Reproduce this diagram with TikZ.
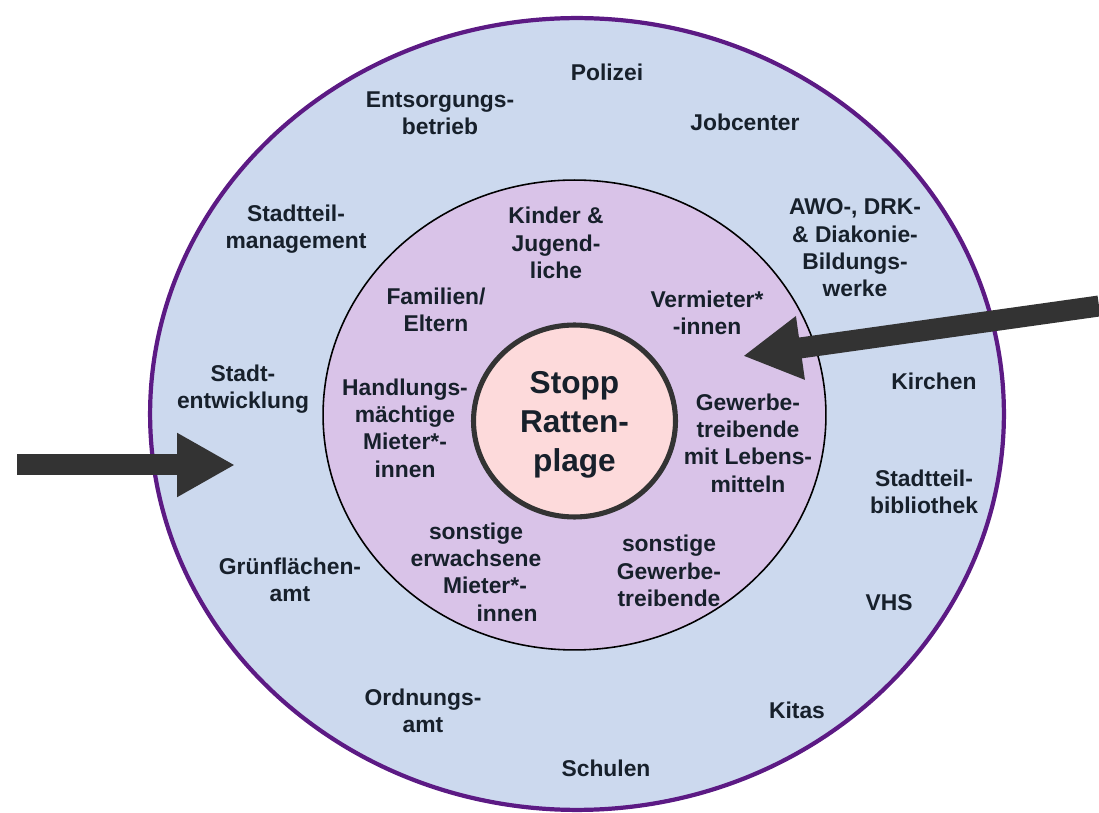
\documentclass[tikz,border=0pt]{standalone}
\usepackage{fontspec}
\setmainfont{Liberation Sans}
\usetikzlibrary{shapes.geometric,arrows.meta}
\definecolor{outerblue}{HTML}{CCD9EE}
\definecolor{ringpurple}{HTML}{5C1A84}
\definecolor{innerlila}{HTML}{D9C3E8}
\definecolor{corepink}{HTML}{FDDADB}
\definecolor{darkgrey}{HTML}{333333}
\definecolor{labeltext}{HTML}{17202B}

\begin{document}
\begin{tikzpicture}[x=0.02cm, y=-0.02cm,
  lbl/.style={font=\fontsize{13}{15.6}\selectfont\bfseries, text=labeltext, align=center, inner sep=0pt},
  ring/.style={ellipse, inner sep=0pt},
  bigarrow/.style={draw=darkgrey, line width=0.42cm, -{Triangle[length=1.16cm,width=1.2cm]}}]
\useasboundingbox (0,0) rectangle (1099,813);
% rings
\node (outer) [ring, draw=ringpurple, line width=2.4pt, fill=outerblue, minimum width=17.08cm, minimum height=15.84cm] at (577,414) {};
\node (inner) [ring, draw=black, line width=0.9pt, fill=innerlila, minimum width=10.06cm, minimum height=9.4cm] at (574.5,415) {};
\node (core) [ring, draw=darkgrey, line width=2.9pt, fill=corepink, minimum width=4.04cm, minimum height=3.84cm] at (574.5,421) {};
\node (coretext) [lbl, font=\fontsize{18}{22.3}\selectfont\bfseries] at (574.5,425) {Stopp\\Ratten-\\plage};
% outer ring
\node (polizei) [lbl] at (607,72) {Polizei};
\node (entsorg) [lbl] at (440,113) {Entsorgungs-\\betrieb};
\node (jobcenter) [lbl] at (745,122) {Jobcenter};
\node (management) [lbl] at (296,229) {Stadtteil-\\management};
\node (awo) [lbl] at (855,248) {AWO-, DRK-\\\& Diakonie-\\Bildungs-\\werke};
\node (entwicklung) [lbl] at (243,389) {Stadt-\\entwicklung};
\node (kirchen) [lbl] at (934,381) {Kirchen};
\node (bibliothek) [lbl] at (924,492) {Stadtteil-\\bibliothek};
\node (gruen) [lbl] at (290,580) {Grünflächen-\\amt};
\node (vhs) [lbl] at (889,603) {VHS};
\node (ordnung) [lbl] at (423,711) {Ordnungs-\\amt};
\node (kitas) [lbl] at (797,710) {Kitas};
\node (schulen) [lbl] at (606,768) {Schulen};
% inner ring
\node (kinder) [lbl] at (556,243) {Kinder \&\\Jugend-\\liche};
\node (familien) [lbl] at (436,310) {Familien/\\Eltern};
\node (vermieter) [lbl] at (707,313) {Vermieter*\\-innen};
\node (handlung) [lbl] at (405,428) {Handlungs-\\mächtige\\Mieter*-\\innen};
\node (lebensmittel) [lbl] at (748,443) {Gewerbe-\\treibende\\mit Lebens-\\mitteln};
\node (erwachsene) [lbl] at (476,572) {sonstige\\erwachsene\\\hspace*{0.36cm}Mieter*-\\\hspace*{1.24cm}innen};
\node (gewerbe) [lbl] at (669,571) {sonstige\\Gewerbe-\\treibende};
% arrows
\coordinate (lefttail) at (17,465);
\coordinate (lefttip) at (235,465);
\coordinate (righttail) at (1099,306);
\coordinate (righttip) at (743,356);
\draw[bigarrow] (lefttail) -- (lefttip);
\draw[bigarrow] (righttail) -- (righttip);
\end{tikzpicture}
\end{document}
